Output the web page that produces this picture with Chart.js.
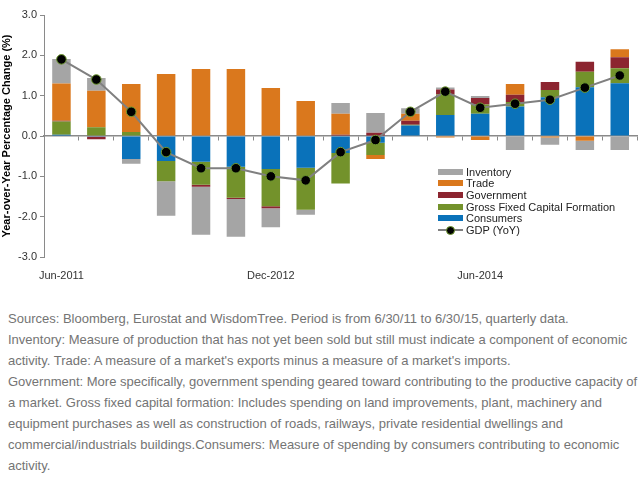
<!DOCTYPE html>
<html><head><meta charset="utf-8">
<script src="https://cdn.jsdelivr.net/npm/chart.js@4"></script>
<style>
body{margin:0;background:#fff;width:643px;height:479px;overflow:hidden;font-family:"Liberation Sans",Arial,sans-serif;}
#wrap{position:absolute;left:0;top:0;width:643px;height:285px;}
#legend{position:absolute;left:438px;top:166px;font-size:11px;color:#222;}
.row{height:11.6px;display:flex;align-items:center;white-space:nowrap}
.sw{width:25px;height:6px;margin-right:3px;position:relative}
.gl{position:absolute;left:0;top:2px;width:25px;height:2px;background:#808080}
.gd{position:absolute;left:8px;top:-1px;width:7px;height:7px;border-radius:50%;background:#000;border:1px solid #6f9a2f}
#notes{position:absolute;left:8px;top:308px;font-size:13px;line-height:21px;color:#747474;white-space:nowrap}
</style>
</head><body>
<div id="wrap"><canvas id="c"></canvas></div>
<div id="legend"></div>
<div id="notes">Sources: Bloomberg, Eurostat and WisdomTree. Period is from 6/30/11 to 6/30/15, quarterly data.<br>Inventory: Measure of production that has not yet been sold but still must indicate a component of economic<br>activity. Trade: A measure of a market's exports minus a measure of a market's imports.<br>Government: More specifically, government spending geared toward contributing to the productive capacity of<br>a market. Gross fixed capital formation: Includes spending on land improvements, plant, machinery and<br>equipment purchases as well as construction of roads, railways, private residential dwellings and<br>commercial/industrials buildings.Consumers: Measure of spending by consumers contributing to economic<br>activity.</div>
<script>
const quarters = ["Jun-2011","Sep-2011","Dec-2011","Mar-2012","Jun-2012","Sep-2012","Dec-2012","Mar-2013","Jun-2013","Sep-2013","Dec-2013","Mar-2014","Jun-2014","Sep-2014","Dec-2014","Mar-2015","Jun-2015"];
const shownTickLabels = ["Jun-2011","Dec-2012","Jun-2014"];
const consumers  = [0.03,-0.02,-0.57,-0.62,-0.64,-0.76,-0.82,-0.79,-0.42,-0.17,0.26,0.52,0.55,0.73,0.96,1.21,1.31];
const gfcf       = [0.33,0.22,0.10,-0.50,-0.57,-0.77,-0.92,-1.04,-0.76,-0.30,0.02,0.51,0.23,0.11,0.18,0.38,0.37];
const government = [0.02,-0.06,0.00,0.00,-0.05,-0.03,-0.05,0.00,0.03,0.08,0.10,0.12,0.16,0.18,0.20,0.25,0.27];
const trade      = [0.92,0.90,1.19,1.54,1.66,1.66,1.19,0.87,0.52,-0.10,0.17,-0.04,-0.10,0.27,-0.04,-0.12,0.20];
const inventory  = [0.61,0.32,-0.12,-0.86,-1.19,-0.94,-0.47,-0.12,0.27,0.49,0.14,0.05,0.05,-0.35,-0.18,-0.23,-0.35];
const gdp        = [1.9,1.4,0.6,-0.4,-0.8,-0.8,-1.0,-1.1,-0.4,-0.1,0.6,1.1,0.7,0.8,0.9,1.2,1.5];

const colors = {inv:'#a5a5a5', trade:'#da781d', gov:'#8c2530', gfcf:'#73922b', cons:'#0a72ba'};

function bar(label, data, color){
  return {type:'bar', label, data, backgroundColor:color, borderWidth:0, stack:'s', order:1,
          categoryPercentage:1, barPercentage:0.53};
}
const datasets = [
  bar('Consumers', consumers, colors.cons),
  bar('Gross Fixed Capital Formation', gfcf, colors.gfcf),
  bar('Government', government, colors.gov),
  bar('Trade', trade, colors.trade),
  bar('Inventory', inventory, colors.inv),
  {type:'line', label:'GDP (YoY)', data:gdp, borderColor:'#808080', borderWidth:2, tension:0,
   pointRadius:4.8, pointBackgroundColor:'#000', pointBorderColor:'#6f9a2f', pointBorderWidth:1,
   stack:'gdp', order:0}
];

new Chart(document.getElementById('c'), {
  type:'bar',
  data:{labels:quarters, datasets},
  options:{
    responsive:true, maintainAspectRatio:false, animation:false,
    layout:{padding:{top:15, right:3, bottom:6, left:0}},
    plugins:{legend:{display:false}, tooltip:{enabled:false}},
    scales:{
      x:{stacked:true, position:'bottom', grid:{display:false}, border:{display:false},
         ticks:{autoSkip:false, maxRotation:0, padding:4, color:'#333', font:{family:'Liberation Sans', size:11},
                callback:(v,i)=> shownTickLabels.includes(quarters[i]) ? quarters[i] : ''},
         afterFit:s=>{s.height=22;}},
      x2:{type:'category', axis:'x', labels:quarters, position:{y:0}, offset:true,
          grid:{offset:true, drawOnChartArea:false, tickLength:4, color:'#8a8a8a'},
          border:{display:true, color:'#8a8a8a', width:1.5}, ticks:{display:false}},
      y:{stacked:true, min:-3, max:3,
         ticks:{stepSize:1, padding:3, color:'#333', font:{family:'Liberation Sans', size:11}, callback:v=>v.toFixed(1)},
         grid:{drawOnChartArea:false, tickLength:4, color:'#8a8a8a'},
         border:{color:'#8a8a8a'},
         title:{display:true, text:'Year-over-Year Percentage Change (%)', color:'#000', padding:0,
                font:{family:'Liberation Sans', size:11, weight:'bold'}},
         afterFit:s=>{s.width=44;}}
    }
  }
});

const legendItems = [
  ['Inventory', colors.inv], ['Trade', colors.trade], ['Government', colors.gov],
  ['Gross Fixed Capital Formation', colors.gfcf], ['Consumers', colors.cons], ['GDP (YoY)', null]
];
const lg = document.getElementById('legend');
legendItems.forEach(([name, col])=>{
  const r = document.createElement('div'); r.className='row';
  const sw = document.createElement('div'); sw.className='sw';
  if(col){ sw.style.background = col; }
  else { sw.innerHTML = '<div class="gl"></div><div class="gd"></div>'; }
  const t = document.createElement('span'); t.textContent = name;
  r.appendChild(sw); r.appendChild(t); lg.appendChild(r);
});
</script>
</body></html>
